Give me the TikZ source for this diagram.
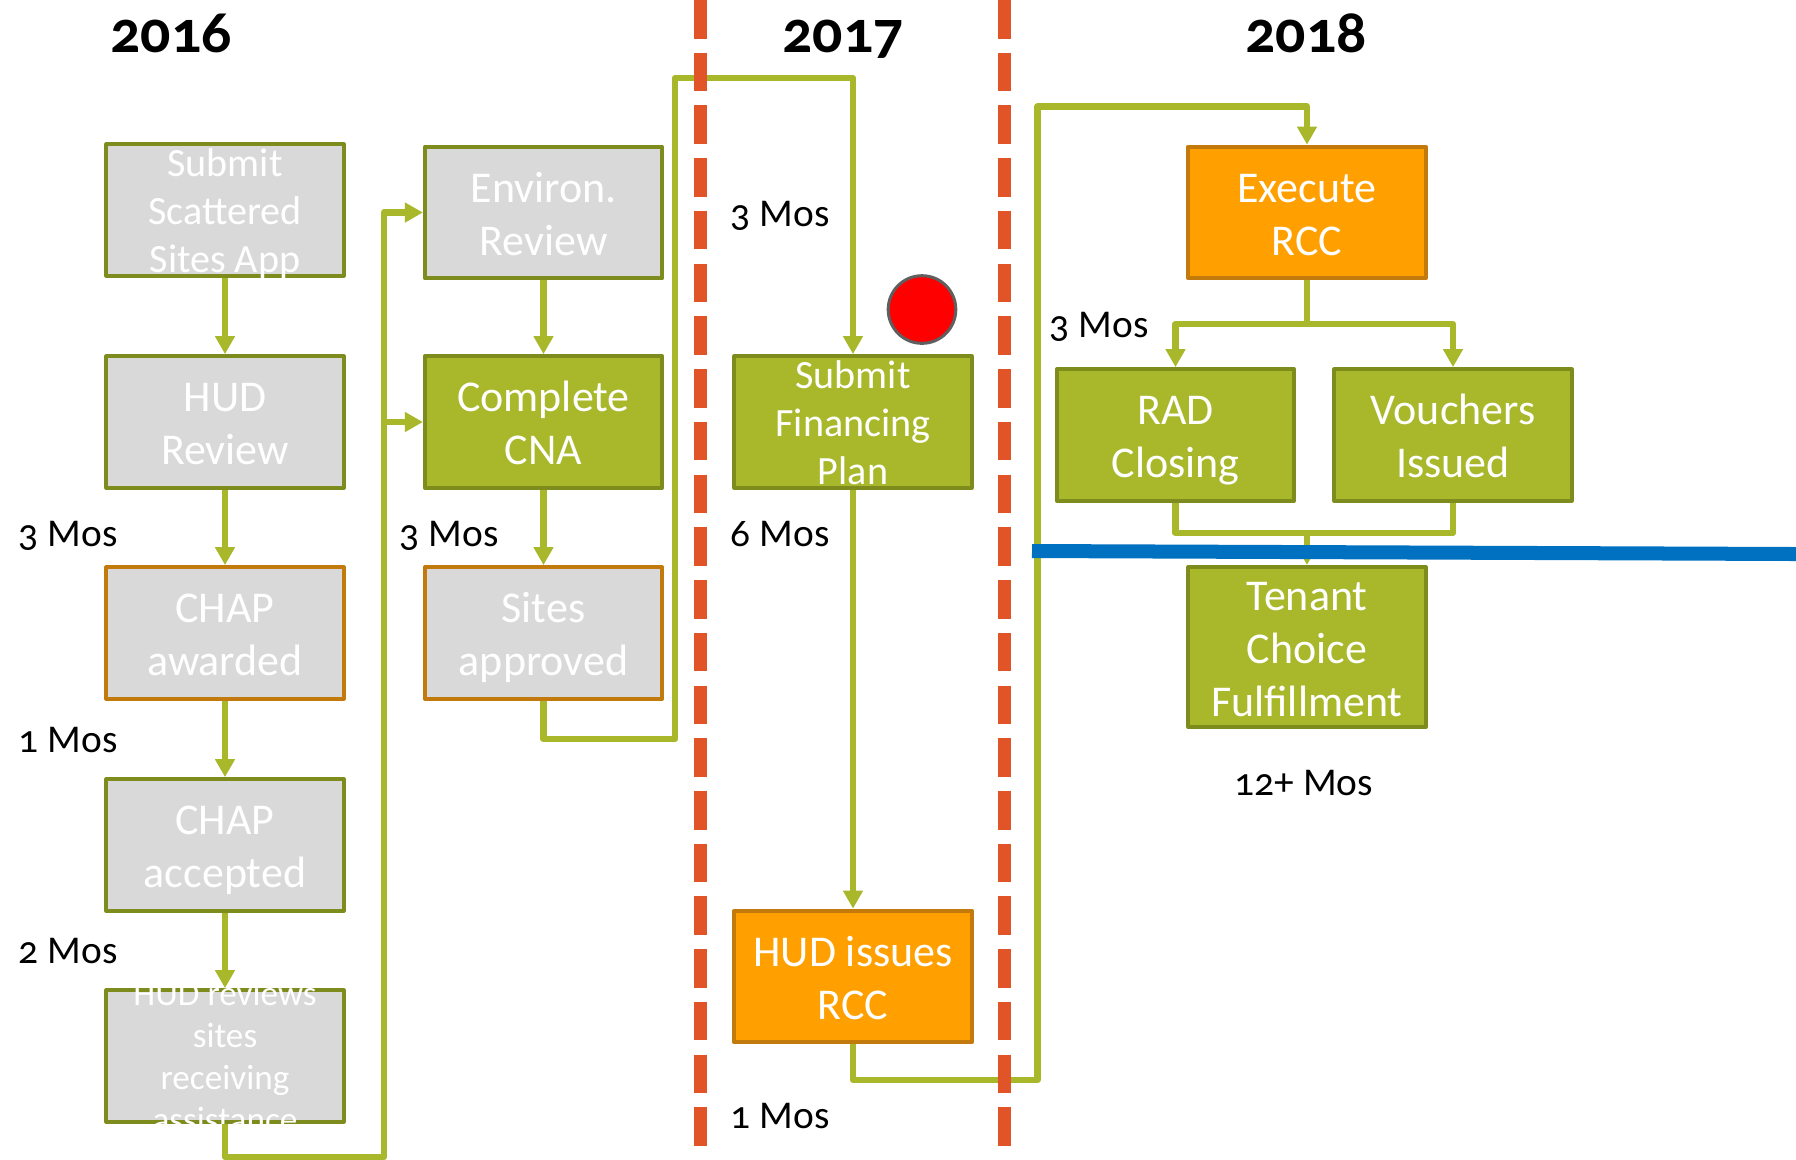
\documentclass[tikz,border=0pt]{standalone}
\usepackage{fontspec}
\setmainfont{Carlito}[Numbers=OldStyle]
\usetikzlibrary{arrows.meta}

\definecolor{flowgreen}{HTML}{A8B82A}
\definecolor{boxgreen}{HTML}{A8B82A}
\definecolor{edgegreen}{HTML}{7E8C1E}
\definecolor{boxgray}{HTML}{D9D9D9}
\definecolor{boxamber}{HTML}{FFA000}
\definecolor{edgeamber}{HTML}{C27A0C}
\definecolor{yearred}{HTML}{E15427}
\definecolor{cutblue}{HTML}{0070C0}
\definecolor{dotgray}{HTML}{5F5F5F}

\newcommand\boxlines[1]{\raisebox{-0.37em}[0pt][0pt]{\begin{tabular}{@{}c@{}}#1\end{tabular}}}

\tikzset{
  stage/.style={draw, line width=0.4mm, minimum width=2.37cm, minimum height=1.317cm,
    inner sep=0pt, text=white, font=\fontsize{12.5}{15}\selectfont},
  graybox/.style={stage, fill=boxgray, draw=edgegreen},
  grayamber/.style={stage, fill=boxgray, draw=edgeamber},
  greenbox/.style={stage, fill=boxgreen, draw=edgegreen},
  amberbox/.style={stage, fill=boxamber, draw=edgeamber},
  smalltext/.style={font=\fontsize{11.4}{13.6}\selectfont},
  tinytext/.style={font=\fontsize{10}{12}\selectfont},
  flow/.style={draw=flowgreen, line width=0.65mm, -{Triangle[width=1.9mm,length=1.8mm]}},
  link/.style={draw=flowgreen, line width=0.65mm},
  yearlabel/.style={anchor=base, font=\fontsize{17}{20}\selectfont\bfseries},
  months/.style={anchor=base west, inner sep=0pt, font=\fontsize{11.2}{13}\selectfont},
  divider/.style={draw=yearred, line width=1.3mm, dash pattern=on 3.85mm off 1.42mm}
}

\begin{document}
\begin{tikzpicture}[x=0.01cm, y=-0.01cm, line join=round]
	\useasboundingbox (0,0) rectangle (1796,1159);

	% years
	\node[yearlabel] (y2016) at (171,52) {2016};
	\node[yearlabel] (y2017) at (843,52) {2017};
	\node[yearlabel] (y2018) at (1306,52) {2018};

	% 2016, first column
	\node[graybox, smalltext] (subapp) at (225,210) {\boxlines{Submit\\Scattered\\Sites App}};
	\node[graybox] (hudrev) at (225,422) {\boxlines{HUD\\Review}};
	\node[grayamber] (chapaw) at (225,633) {\boxlines{CHAP\\awarded}};
	\node[graybox] (chapac) at (225,845) {\boxlines{CHAP\\accepted}};
	\node[graybox, tinytext] (hudsites) at (225,1056) {\boxlines{HUD reviews\\sites\\receiving\\assistance}};

	% 2016, second column
	\node[graybox] (environ) at (543.5,212.5) {\boxlines{Environ.\\Review}};
	\node[greenbox] (cna) at (543.5,422) {\boxlines{Complete\\CNA}};
	\node[grayamber] (sitesok) at (543.5,633) {\boxlines{Sites\\approved}};

	% 2017
	\node[greenbox, smalltext] (finplan) at (853,422) {\boxlines{Submit\\Financing\\Plan}};
	\node[amberbox] (hudrcc) at (853,976.5) {\boxlines{HUD issues\\RCC}};

	% 2018
	\node[amberbox] (execrcc) at (1307,212.5) {\boxlines{Execute\\RCC}};
	\node[greenbox] (radclose) at (1175.5,435) {\boxlines{RAD\\Closing}};
	\node[greenbox] (vouchers) at (1453,435) {\boxlines{Vouchers\\Issued}};
	\node[greenbox, minimum height=1.6cm] (tenant) at (1307,647) {\boxlines{Tenant\\Choice\\Fulfillment}};

	% durations
	\node[months] (m1) at (18,546) {3~Mos};
	\node[months] (m2) at (18,752) {1~Mos};
	\node[months] (m3) at (18,963) {2~Mos};
	\node[months] (m4) at (399,546) {3~Mos};
	\node[months] (m5) at (730,226) {3~Mos};
	\node[months] (m6) at (730,546) {6~Mos};
	\node[months] (m7) at (730,1128) {1~Mos};
	\node[months] (m8) at (1049,337) {3~Mos};
	\node[months, anchor=base] (m9) at (1304,795) {12+~Mos};

	% turning points of the connectors
	\coordinate (loopA) at (384,1157);
	\coordinate (loopB) at (675,739);
	\coordinate (topB) at (675,78);
	\coordinate (loopC) at (1037.5,1080);
	\coordinate (topC) at (1037.5,106.5);
	\coordinate (splitD) at (1307,324);
	\coordinate (mergeD) at (1307,533);

	% connectors
	\draw[flow] (subapp) -- (hudrev);
	\draw[flow] (hudrev) -- (chapaw);
	\draw[flow] (chapaw) -- (chapac);
	\draw[flow] (chapac) -- (hudsites);
	\draw[flow] (hudsites.south) |- (loopA) |- (environ.west);
	\draw[flow] (loopA |- cna.west) -- (cna.west);
	\draw[flow] (environ) -- (cna);
	\draw[flow] (cna) -- (sitesok);
	\draw[flow] (sitesok.south) |- (loopB) -- (topB) -| (finplan.north);
	\draw[flow] (finplan) -- (hudrcc);
	\draw[flow] (hudrcc.south) |- (loopC) -- (topC) -| (execrcc.north);
	\draw[link] (execrcc.south) -- (splitD);
	\draw[flow] (splitD) -| (radclose.north);
	\draw[flow] (splitD) -| (vouchers.north);
	\draw[link] (radclose.south) |- (mergeD);
	\draw[link] (vouchers.south) |- (mergeD);
	\draw[flow] (mergeD) -- (tenant.north);

	% year boundaries
	\draw[divider] (700.5,0) -- (700.5,1146);
	\draw[divider] (1004,0) -- (1004,1146);

	% cut line and marker
	\draw[cutblue, line width=1.4mm] (1032,551) -- (1796,554);
	\node[circle, fill=red, draw=dotgray, line width=0.3mm, minimum size=0.676cm, inner sep=0pt] (alert) at (922,309.5) {};
\end{tikzpicture}
\end{document}
